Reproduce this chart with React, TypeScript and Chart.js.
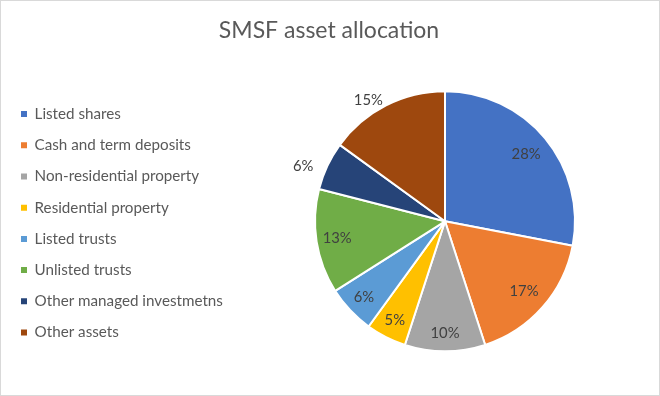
import React, { useEffect, useRef } from "react";
import { Chart, registerables } from "chart.js";

Chart.register(...registerables);

const TITLE = "SMSF asset allocation";
const categories = [
  "Listed shares",
  "Cash and term deposits",
  "Non-residential property",
  "Residential property",
  "Listed trusts",
  "Unlisted trusts",
  "Other managed investmetns",
  "Other assets",
];
const shares = [28, 17, 10, 5, 6, 13, 6, 15];
const sliceColors = [
  "#4472C4",
  "#ED7D31",
  "#A5A5A5",
  "#FFC000",
  "#5B9BD5",
  "#70AD47",
  "#264478",
  "#9E480E",
];

const FONT = "Lato, 'Liberation Sans', sans-serif";

const fixedLegendWidth = {
  id: "fixedLegendWidth",
  beforeInit(chart: any, _args: any, opts: any) {
    const lg = chart.legend;
    if (!lg) return;
    const orig = lg.fit.bind(lg);
    lg.fit = function () {
      orig();
      this.width = opts.width;
    };
  },
};

const pieLabels = {
  id: "pieLabels",
  afterDatasetsDraw(chart: any, _args: any, opts: any) {
    const meta = chart.getDatasetMeta(0);
    const data = chart.data.datasets[0].data as number[];
    const total = data.reduce((a, b) => a + b, 0);
    const ctx = chart.ctx;
    ctx.save();
    ctx.font = `${opts.size}px ${FONT}`;
    ctx.fillStyle = opts.color;
    ctx.textAlign = "center";
    ctx.textBaseline = "middle";
    meta.data.forEach((arc: any, i: number) => {
      const p = arc.getProps(["x", "y", "startAngle", "endAngle", "outerRadius"], true);
      const f = opts.angleFrac[i] ?? 0.5;
      const a = p.startAngle + (p.endAngle - p.startAngle) * f;
      const r = p.outerRadius * (opts.radial[i] ?? 0.8);
      const pct = Math.round((data[i] / total) * 100) + "%";
      ctx.fillText(pct, p.x + Math.cos(a) * r, p.y + Math.sin(a) * r);
    });
    ctx.restore();
  },
};

export default function App() {
  const ref = useRef<HTMLCanvasElement | null>(null);

  useEffect(() => {
    document.body.style.margin = "0";
    if (!ref.current) return;
    const chart = new Chart(ref.current, {
      type: "pie",
      data: {
        labels: categories,
        datasets: [
          {
            data: shares,
            backgroundColor: sliceColors,
            borderColor: "#ffffff",
            borderWidth: 2,
            radius: 130,
            hoverOffset: 0,
          },
        ],
      },
      options: {
        animation: false,
        responsive: true,
        maintainAspectRatio: false,
        layout: { padding: { left: 4, right: 6, top: 0, bottom: 22 } },
        plugins: {
          title: {
            display: true,
            text: TITLE,
            color: "#595959",
            font: { family: FONT, size: 23, weight: "normal" },
            padding: { top: 16, bottom: 25 },
          },
          legend: {
            position: "left",
            align: "center",
            fullSize: false,
            title: { display: true, text: "", font: { size: 1 }, padding: { top: 2.8, bottom: 0 } },
            labels: {
              boxWidth: 6,
              boxHeight: 6,
              padding: 16,
              color: "#595959",
              font: { family: FONT, size: 15.2 },
              generateLabels: (c: any) => {
                const items = (Chart as any).overrides.pie.plugins.legend.labels.generateLabels(c);
                return items.map((it: any) => ({ ...it, lineWidth: 0, strokeStyle: it.fillStyle }));
              },
            },
          },
          tooltip: { enabled: false },
          fixedLegendWidth: { width: 232 },
          pieLabels: {
            size: 14.8,
            color: "#404040",
            radial: [0.81, 0.81, 0.86, 0.85, 0.855, 0.84, 1.17, 1.1],
            angleFrac: [0.5, 0.5, 0.5, 0.5, 0.5, 0.5, 0.315, 0.4],
          },
        } as any,
      },
      plugins: [fixedLegendWidth, pieLabels],
    });
    return () => chart.destroy();
  }, []);

  return (
    <div
      style={{
        width: 660,
        height: 396,
        boxSizing: "border-box",
        border: "1px solid #d9d9d9",
        background: "#ffffff",
        overflow: "hidden",
      }}
    >
      <div style={{ position: "relative", width: 658, height: 394 }}>
        <canvas ref={ref} />
      </div>
    </div>
  );
}
